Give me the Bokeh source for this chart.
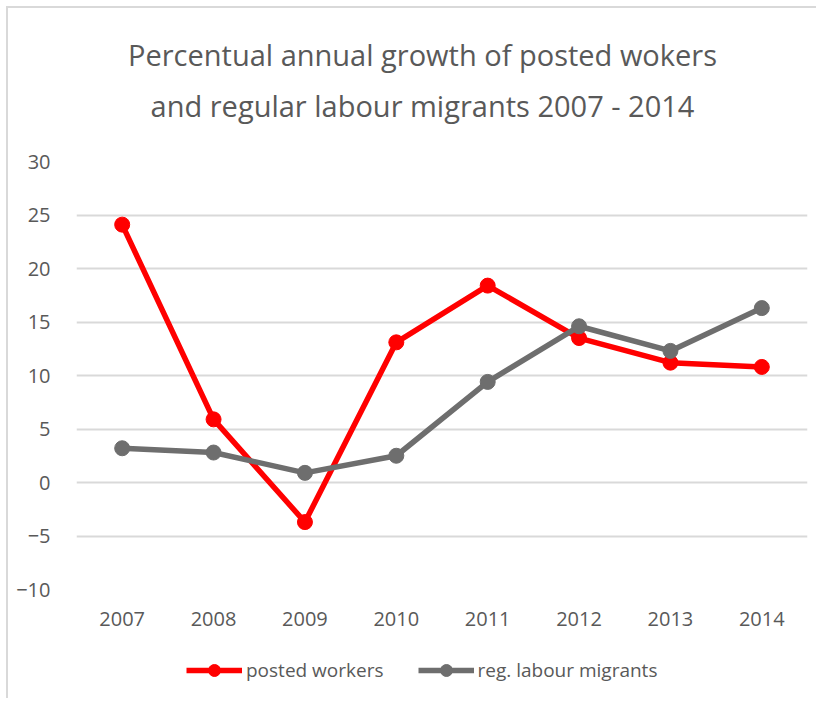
from bokeh.plotting import figure
from bokeh.models import Legend, LegendItem, FixedTicker, Label
from bokeh.layouts import column
from bokeh.embed import file_html
from bokeh.resources import INLINE

years = ["2007", "2008", "2009", "2010", "2011", "2012", "2013", "2014"]
posted_workers = [24.1, 5.9, -3.7, 13.1, 18.4, 13.5, 11.2, 10.8]
labour_migrants = [3.2, 2.8, 0.9, 2.5, 9.4, 14.6, 12.3, 16.3]
y_ticks = [-10, -5, 0, 5, 10, 15, 20, 25, 30]
series_names = ["posted workers", "reg. labour migrants"]
title_lines = ["Percentual annual growth of posted wokers",
               "and regular labour migrants 2007 - 2014"]

FONT = "Open Sans"
TXT = "#595959"
RED = "#FF0000"
GRAY = "#6E6E6E"
W = 808


def strip(height, x_range, y_range):
    f = figure(width=W, height=height, x_range=x_range, y_range=y_range,
               output_backend="svg", toolbar_location=None,
               x_axis_location=None, y_axis_location=None,
               min_border=0, min_border_left=0, min_border_right=0,
               min_border_top=0, min_border_bottom=0)
    f.title.visible = False
    f.grid.visible = False
    f.outline_line_color = None
    return f


# title strip
tf = strip(122, (0, 1), (0, 1))
for txt, yy in zip(title_lines, [76, 25]):
    tf.add_layout(Label(x=346, y=yy, x_units="screen", y_units="screen", text=txt,
                        text_align="center", text_baseline="alphabetic",
                        text_font=FONT, text_font_size="29px", text_color=TXT))

# main chart
p = figure(x_range=years, y_range=(-10, 30), width=W, height=510,
           output_backend="svg", toolbar_location=None,
           min_border_left=68, min_border_right=9, min_border_top=31,
           min_border_bottom=51)
p.title.visible = False
p.outline_line_color = None
p.x_range.range_padding = 0

p.line(years, posted_workers, line_color=RED, line_width=5.5)
p.scatter(years, posted_workers, size=15, fill_color=RED, line_color=RED)
p.line(years, labour_migrants, line_color=GRAY, line_width=5.5)
p.scatter(years, labour_migrants, size=15, fill_color=GRAY, line_color=GRAY)

p.yaxis.ticker = FixedTicker(ticks=y_ticks)
for ax in (p.xaxis[0], p.yaxis[0]):
    ax.axis_line_color = None
    ax.major_tick_line_color = None
    ax.minor_tick_line_color = None
    ax.major_label_text_font = FONT
    ax.major_label_text_font_size = "20px"
    ax.major_label_text_color = TXT
p.xaxis.major_label_standoff = 16
p.yaxis.major_label_standoff = 20

p.xgrid.grid_line_color = None
p.ygrid.grid_line_color = "#D9D9D9"
p.ygrid.grid_line_width = 2
p.ygrid.ticker = FixedTicker(ticks=y_ticks)

# legend strip below the chart (series drawn out of view, only legend shows)
lg = strip(58, years, (1000, 1001))
items = []
for name, vals, col in zip(series_names, [posted_workers, labour_migrants], [RED, GRAY]):
    rl = lg.line(years, vals, line_color=col, line_width=5.5)
    rs = lg.scatter(years, vals, size=15, fill_color=col, line_color=col)
    items.append(LegendItem(label=name, renderers=[rl, rs]))

legend = Legend(items=items, orientation="horizontal", location=(110, 13),
                label_text_font=FONT, label_text_font_size="19px",
                label_text_color=TXT, glyph_width=56, glyph_height=30,
                label_standoff=4, spacing=34, border_line_color=None,
                background_fill_alpha=0, margin=0, padding=4)
lg.add_layout(legend, "center")

layout = column(tf, p, lg, spacing=0, margin=(6, 0, 0, 6),
                styles={"border-left": "2px solid #d9d9d9",
                        "border-top": "2px solid #d9d9d9"})
open("out.html", "w").write(file_html(layout, INLINE))
